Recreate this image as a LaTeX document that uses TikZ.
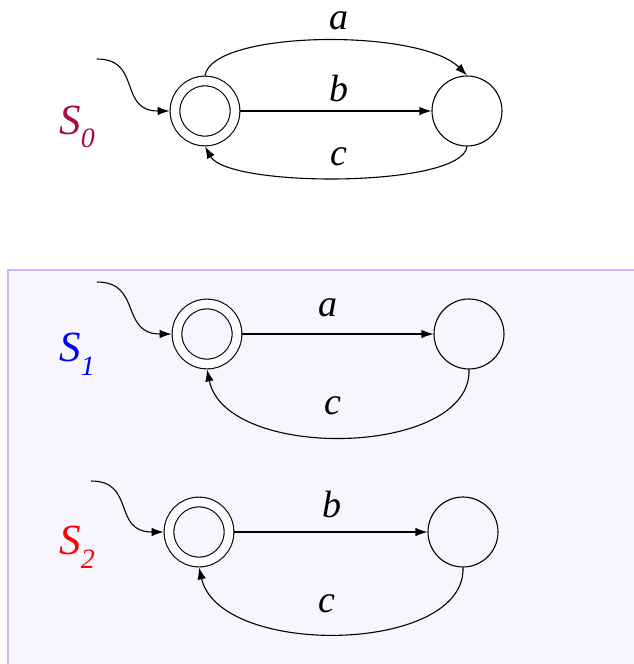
\documentclass[tikz,border=0pt]{standalone}
\usepackage{fontspec}
\setmainfont{Liberation Serif}
\usetikzlibrary{arrows.meta}
\definecolor{boxfill}{RGB}{248,245,254}
\definecolor{boxline}{RGB}{212,178,250}
\definecolor{szero}{RGB}{168,12,62}
\newcommand{\slab}[1]{\itshape S\raisebox{-0.32em}{\fontsize{28}{28}\selectfont #1}}

\begin{document}
\begin{tikzpicture}[
  x=1pt, y=-1pt, line width=1.1pt,
  state/.style={circle,draw,minimum size=70pt,inner sep=0pt},
  accept/.style={circle,draw,double,double distance=8.6pt,minimum size=60pt,inner sep=0pt,outer sep=5.4pt},
  edge/.style={-{Latex[length=12pt,width=8.5pt]}},
  lbl/.style={font=\fontsize{38}{38}\selectfont\itshape,inner sep=0pt},
  slbl/.style={font=\fontsize{43}{43}\selectfont,inner sep=0pt}
]
  \useasboundingbox (0,0) rectangle (634,664);
  \draw[boxline,fill=boxfill,line width=1.5pt] (8,270) rectangle (640,670);

  % S0
  \node[slbl,text=szero] (n0) at (77,127) {\slab{0}};
  \node[accept] (q0) at (205,111) {};
  \node[state] (p0) at (467,111) {};
  \coordinate (i0) at (97,59);
  \draw[edge] (i0) .. controls (142,59) and (118,111) .. (q0.west);
  \draw[edge] (q0.north) .. controls (212,30) and (420,28) .. (p0.north);
  \draw[edge] (q0.east) -- (p0.west);
  \draw[edge] (p0.south) .. controls (462,188) and (228,188) .. (q0.south);
  \node[lbl] (a0) at (339,21) {a};
  \node[lbl] (b0) at (339,89) {b};
  \node[lbl] (c0) at (339,157) {c};

  % S1
  \node[slbl,text=blue] (n1) at (77,354) {\slab{1}};
  \node[accept] (q1) at (207,334) {};
  \node[state] (p1) at (469,334) {};
  \coordinate (i1) at (97,282);
  \draw[edge] (i1) .. controls (142,282) and (120,334) .. (q1.west);
  \draw[edge] (q1.east) -- (p1.west);
  \draw[edge] (p1.south) .. controls (472,457) and (226,462) .. (q1.south);
  \node[lbl] (a1) at (328,308) {a};
  \node[lbl] (c1) at (333,406) {c};

  % S2
  \node[slbl,text=red] (n2) at (77,547) {\slab{2}};
  \node[accept] (q2) at (199,532) {};
  \node[state] (p2) at (463,532) {};
  \coordinate (i2) at (91,481);
  \draw[edge] (i2) .. controls (136,481) and (112,532) .. (q2.west);
  \draw[edge] (q2.east) -- (p2.west);
  \draw[edge] (p2.south) .. controls (466,654) and (220,658) .. (q2.south);
  \node[lbl] (b2) at (332,504) {b};
  \node[lbl] (c2) at (327,604) {c};
\end{tikzpicture}
\end{document}
